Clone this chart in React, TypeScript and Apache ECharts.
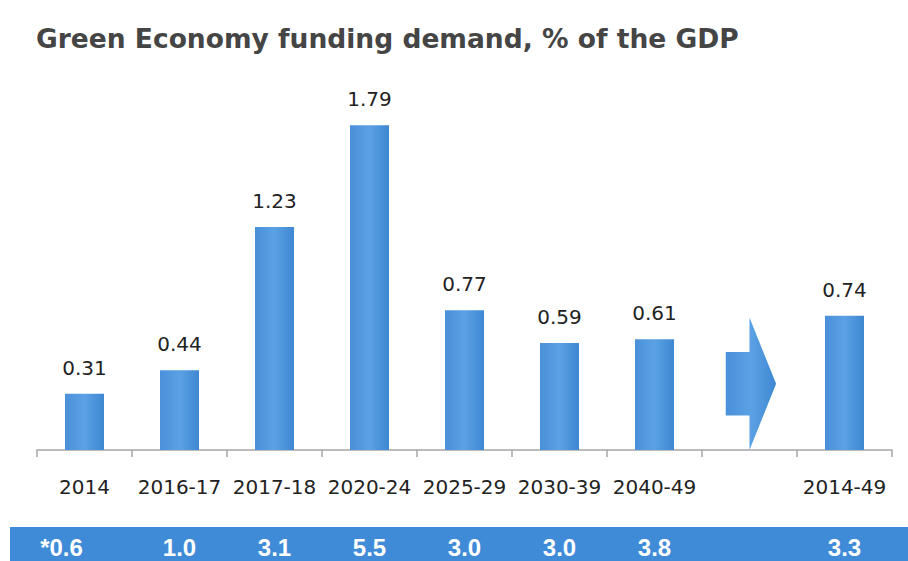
import React, { useEffect, useRef } from "react";
import * as echarts from "echarts";

const titleText = "Green Economy funding demand, % of the GDP";
const categories = ["2014", "2016-17", "2017-18", "2020-24", "2025-29", "2030-39", "2040-49", "", "2014-49"];
const gdpShare = [0.31, 0.44, 1.23, 1.79, 0.77, 0.59, 0.61, null, 0.74];
const bandValues = ["*0.6", "1.0", "3.1", "5.5", "3.0", "3.0", "3.8", "", "3.3"];
// arrow in the empty category: [category index, body bottom, body top, head bottom, head top]
const arrowShape = [[7, 0.19, 0.54, 0, 0.73]];

const barGradient = () =>
  new echarts.graphic.LinearGradient(0, 0, 1, 0, [
    { offset: 0, color: "#4a90da" },
    { offset: 0.5, color: "#5ba1e4" },
    { offset: 1, color: "#3e87d2" },
  ]);

const bandFont = {
  fontFamily: "Liberation Sans",
  fontSize: 24,
  lineHeight: 24,
  fontWeight: "bold",
  color: "#ffffff",
};

export default function App() {
  const ref = useRef<HTMLDivElement>(null);
  useEffect(() => {
    document.body.style.margin = "0";
    const chart = echarts.init(ref.current!, null, { renderer: "svg" });
    chart.setOption({
      animation: false,
      backgroundColor: "#ffffff",
      title: {
        text: titleText,
        left: 31,
        top: 20,
        textStyle: { fontFamily: "DejaVu Sans", fontSize: 26.5, fontWeight: "bold", color: "#454545" },
      },
      graphic: [
        {
          type: "rect",
          shape: { x: 10, y: 527, width: 898, height: 34 },
          style: { fill: "#3f8bd8" },
          z: 0,
        },
      ],
      grid: { left: 37, right: 16, top: 60, bottom: 111 },
      xAxis: [
        {
          type: "category",
          data: categories,
          axisLine: { lineStyle: { color: "#a6a6a6", width: 1.5 } },
          axisTick: { show: true, length: 7, lineStyle: { color: "#a6a6a6", width: 1.5 } },
          axisLabel: {
            interval: 0,
            margin: 27,
            fontFamily: "DejaVu Sans",
            fontSize: 20,
            lineHeight: 20,
            color: "#222222",
          },
        },
        {
          type: "category",
          data: bandValues,
          position: "bottom",
          axisLine: { show: false },
          axisTick: { show: false },
          axisLabel: {
            interval: 0,
            margin: 85,
            ...bandFont,
            formatter: (v: string, i: number) => (i === 0 ? `{first|${v}}` : v),
            rich: { first: { ...bandFont, padding: [0, 46, 0, 0] } },
          },
          z: 10,
        },
      ],
      yAxis: { type: "value", min: 0, max: 2.15, show: false, splitLine: { show: false } },
      series: [
        {
          type: "bar",
          data: gdpShare,
          barWidth: 39,
          itemStyle: { color: barGradient() },
          label: {
            show: true,
            position: "top",
            distance: 16,
            fontFamily: "DejaVu Sans",
            fontSize: 20,
            color: "#222222",
          },
        },
        {
          type: "custom",
          data: arrowShape,
          renderItem: (params: any, api: any) => {
            const idx = api.value(0);
            const bw = api.size([1, 0])[0];
            const c0 = api.coord([idx, api.value(1)]);
            const c1 = api.coord([idx, api.value(2)]);
            const h0 = api.coord([idx, api.value(3)]);
            const h1 = api.coord([idx, api.value(4)]);
            const cx = c0[0];
            const midY = (h0[1] + h1[1]) / 2;
            const left = cx - bw * 0.25;
            const tip = cx + bw * 0.28;
            return {
              type: "polygon",
              shape: {
                points: [
                  [left, c1[1]],
                  [cx, c1[1]],
                  [cx, h1[1]],
                  [tip, midY],
                  [cx, h0[1]],
                  [cx, c0[1]],
                  [left, c0[1]],
                ],
              },
              style: { fill: barGradient() },
            };
          },
        },
      ],
    });
    return () => chart.dispose();
  }, []);
  return <div ref={ref} style={{ width: 908, height: 561 }} />;
}
